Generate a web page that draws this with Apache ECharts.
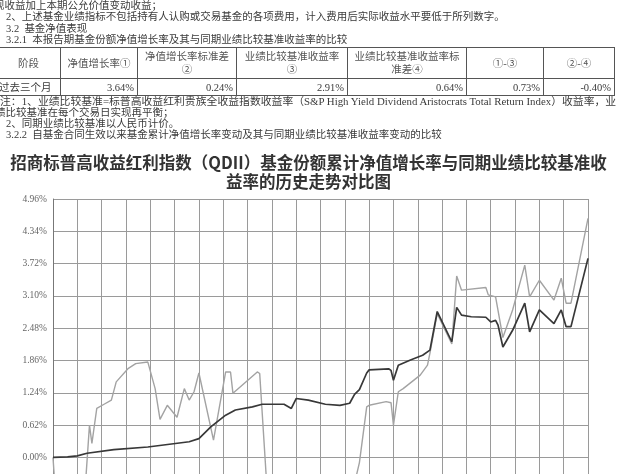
<!DOCTYPE html>
<html><head><meta charset="utf-8">
<script src="https://cdn.jsdelivr.net/npm/echarts@6/dist/echarts.min.js"></script>
<style>
html,body{margin:0;padding:0;width:617px;height:474px;overflow:hidden;background:#fff;}
#chart{position:absolute;left:0;top:0;width:617px;height:474px;z-index:1;}
#doc{position:absolute;left:0;top:0;width:617px;height:150px;font-family:"Liberation Serif","Noto Sans CJK SC",serif;font-size:10.5px;color:#3a3a3a;z-index:2;}
.ln{position:absolute;white-space:nowrap;line-height:12px;transform-origin:0 50%;}
table{position:absolute;left:-4px;top:47px;border-collapse:collapse;table-layout:fixed;width:618px;font-size:10.5px;color:#3a3a3a;}
td{border:1px solid #555;padding:0 3px;line-height:13px;overflow:hidden;white-space:nowrap;}
tr.h td{height:30px;text-align:center;color:#555;}
tr.d td{height:16px;text-align:right;}
tr.d td.f{text-align:left;padding-left:2px;}
</style></head>
<body>
<div id="chart"></div>
<div id="doc">
  <div class="ln" style="left:-6px;top:0px;">现收益加上本期公允价值变动收益；</div>
  <div class="ln" style="left:6px;top:11px;">2、上述基金业绩指标不包括持有人认购或交易基金的各项费用，计入费用后实际收益水平要低于所列数字。</div>
  <div class="ln" style="left:6px;top:23px;">3.2&nbsp;&nbsp;基金净值表现</div>
  <div class="ln" style="left:6px;top:34px;">3.2.1&nbsp;&nbsp;本报告期基金份额净值增长率及其与同期业绩比较基准收益率的比较</div>
  <table>
    <colgroup><col style="width:64px"><col style="width:77px"><col style="width:99px"><col style="width:111px"><col style="width:119px"><col style="width:77px"><col style="width:71px"></colgroup>
    <tr class="h"><td>阶段</td><td>净值增长率①</td><td>净值增长率标准差<br>②</td><td>业绩比较基准收益率<br>③</td><td>业绩比较基准收益率标<br>准差④</td><td>①-③</td><td>②-④</td></tr>
    <tr class="d"><td class="f">过去三个月</td><td>3.64%</td><td>0.24%</td><td>2.91%</td><td>0.64%</td><td>0.73%</td><td>-0.40%</td></tr>
  </table>
  <div class="ln" id="note1" style="left:0px;top:96px;">注：1、业绩比较基准=标普高收益红利贵族全收益指数收益率（S&amp;P High Yield Dividend Aristocrats Total Return Index）收益率，业</div>
  <div class="ln" style="left:-5px;top:107px;">绩比较基准在每个交易日实现再平衡；</div>
  <div class="ln" style="left:6px;top:118px;">2、同期业绩比较基准以人民币计价。</div>
  <div class="ln" style="left:6px;top:129px;">3.2.2&nbsp;&nbsp;自基金合同生效以来基金累计净值增长率变动及其与同期业绩比较基准收益率变动的比较</div>
</div>
<script>
var n1 = document.getElementById('note1');
n1.style.transform = 'scaleX(' + (616 / n1.scrollWidth) + ')';

// ---- data (trading-day index, cumulative return %) ----
var fundDay = [0,6,10,14,25,39,56,60,65,71,75,82,86,95,98,100,105,112,118,122,124,126,129,130,138,139,140,142,147,152,155,158,164,166,168,172,178,180,182,183,185,189,194,196,200,206,209,211,213,220];
var fundValue = [0.00,0.01,0.03,0.08,0.15,0.20,0.30,0.36,0.59,0.81,0.91,0.97,1.02,1.02,0.94,1.13,1.10,1.02,1.00,1.04,1.21,1.30,1.62,1.68,1.70,1.67,1.48,1.77,1.87,1.96,2.06,2.80,2.22,2.88,2.73,2.70,2.69,2.60,2.63,2.54,2.12,2.44,2.96,2.41,2.83,2.57,2.83,2.51,2.51,3.82];
var benchDay = [0,1,8,13,15,16,18,21,24,26,31,34,39,42,44,47,51,54,56,58,60,66,71,73,74,84,85,88,95,105,115,122,126,129,130,137,139,140,142,144,151,154,155,158,164,166,168,178,179,182,185,189,194,196,200,206,209,211,213,220];
var benchValue = [0.00,-0.70,-0.85,-0.75,0.62,0.27,0.94,1.02,1.10,1.45,1.71,1.80,1.83,1.32,0.73,1.00,0.77,1.32,1.10,1.26,1.62,0.33,1.64,1.64,1.23,1.64,1.61,-0.60,-0.85,-0.95,-0.80,-0.90,-0.10,0.97,1.00,1.07,1.05,0.62,1.26,1.32,1.58,1.77,2.00,2.76,2.18,3.48,3.21,3.26,3.12,3.08,2.30,2.83,3.69,3.08,3.40,3.02,3.44,2.96,2.96,4.59];
var yTicks = {min: -1.24, max: 4.96, step: 0.62};
var dayRange = {min: 0, max: 220, step: 10};
var titleText = '招商标普高收益红利指数（QDII）基金份额累计净值增长率与同期业绩比较基准收\n益率的历史走势对比图';
var fundName = '招商标普高收益红利指数（QDII）累计净值增长率';
var benchName = '业绩比较基准收益率';

function pairs(d, v){ return d.map(function(x,i){ return [x, v[i]]; }); }

var chart = echarts.init(document.getElementById('chart'), null, {renderer:'canvas'});
chart.setOption({
  animation: false,
  backgroundColor: '#fff',
  title: {
    text: titleText, left: 'center', top: 148,
    textStyle: {fontFamily: '"Noto Sans CJK SC"', fontSize: 16.5, fontWeight: 'bold', color: '#333', lineHeight: 19}
  },
  grid: {left: 53, right: 29, top: 199, height: 323, containLabel: false, outerBoundsMode: 'none'},
  xAxis: {
    type: 'value', min: dayRange.min, max: dayRange.max, interval: dayRange.step,
    axisLine: {show: false}, axisTick: {show: false}, axisLabel: {show: false},
    splitLine: {show: true, lineStyle: {color: '#9a9a9a', width: 1}}
  },
  yAxis: {
    type: 'value', min: yTicks.min, max: yTicks.max, interval: yTicks.step, offset: 2,
    axisLine: {show: true, lineStyle: {color: '#777', width: 1}},
    axisTick: {show: false},
    axisLabel: {margin: 4, fontSize: 9.5, color: '#666', fontFamily: '"Liberation Serif"',
      formatter: function(v){ return v.toFixed(2) + '%'; }},
    splitLine: {show: true, lineStyle: {color: '#9a9a9a', width: 1}}
  },
  series: [
    {name: benchName, type: 'line', data: pairs(benchDay, benchValue), showSymbol: false,
     lineStyle: {color: '#a3a3a3', width: 1.4}, z: 2},
    {name: fundName, type: 'line', data: pairs(fundDay, fundValue), showSymbol: false,
     lineStyle: {color: '#383838', width: 1.7}, z: 3}
  ]
});
</script>
</body></html>
